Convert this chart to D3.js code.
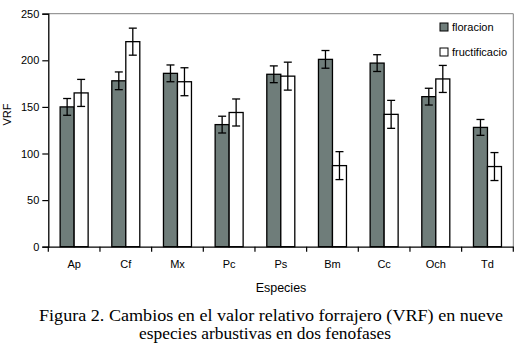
<!DOCTYPE html>
<html><head><meta charset="utf-8">
<script src="https://cdn.jsdelivr.net/npm/d3@7"></script>
<style>body{margin:0;background:#fff}svg{display:block}</style>
</head><body>
<svg id="c" width="519" height="349"></svg>
<script>
const categories = ["Ap","Cf","Mx","Pc","Ps","Bm","Cc","Och","Td"];
const seriesNames = ["floracion","fructificacio"];
const floracion = [150,178,186,131,185,201,197,161,128];
const fructificacio = [165,220,177,144,183,87,142,180,86];
const errFloracion = [9,9.5,9,9,9,9.5,9,9,8.5];
const errFructificacio = [14.5,14.5,15,14.5,15,15,15,14.5,15];
const yTicks = [0,50,100,150,200,250];

const svg = d3.select("#c");
const L = 48.3, R = 513.3, T = 13.7, B = 246.7;
const x = d3.scaleBand().domain(categories).range([L,R]).paddingInner(0).paddingOuter(0);
const y = d3.scaleLinear().domain([0,250]).range([B,T]);
const inner = d3.scaleBand().domain(seriesNames).range([0,28]);
const off = (x.bandwidth()-28)/2;
const floraFill = "#6f7d7a";

// frame top/right
svg.append("line").attr("x1",L).attr("x2",R).attr("y1",T).attr("y2",T).attr("stroke","#808080").attr("stroke-width",1);
svg.append("line").attr("x1",R).attr("x2",R).attr("y1",T).attr("y2",B).attr("stroke","#808080").attr("stroke-width",1);

const data = categories.map((c,i)=>({c, vals:[
  {s:"floracion", v:floracion[i], e:errFloracion[i]},
  {s:"fructificacio", v:fructificacio[i], e:errFructificacio[i]}]}));

const g = svg.append("g");
const grp = g.selectAll("g.grp").data(data).join("g").attr("transform",d=>`translate(${x(d.c)+off},0)`);
grp.selectAll("rect").data(d=>d.vals).join("rect")
  .attr("x",d=>inner(d.s)).attr("width",inner.bandwidth())
  .attr("y",d=>y(d.v)).attr("height",d=>B-y(d.v))
  .attr("fill",d=>d.s==="floracion"?floraFill:"#fff")
  .attr("stroke","#000").attr("stroke-width",1.3);
// error bars
const eb = grp.selectAll("g.eb").data(d=>d.vals).join("g").attr("class","eb");
eb.append("line").attr("x1",d=>inner(d.s)+inner.bandwidth()/2).attr("x2",d=>inner(d.s)+inner.bandwidth()/2)
  .attr("y1",d=>y(d.v+d.e)).attr("y2",d=>y(d.v-d.e)).attr("stroke","#000").attr("stroke-width",1.3);
[1,-1].forEach(sg=>{
  eb.append("line").attr("x1",d=>inner(d.s)+inner.bandwidth()/2-4).attr("x2",d=>inner(d.s)+inner.bandwidth()/2+4)
   .attr("y1",d=>y(d.v+sg*d.e)).attr("y2",d=>y(d.v+sg*d.e)).attr("stroke","#000").attr("stroke-width",1.3);
});

// axes
const font = "'Liberation Sans', Arial, sans-serif";
const ya = svg.append("g").attr("transform",`translate(${L},0)`)
  .call(d3.axisLeft(y).tickValues(yTicks).tickSize(6).tickPadding(3));
ya.select(".domain").attr("stroke","#000").attr("stroke-width",1.3);
ya.selectAll(".tick line").attr("stroke","#000").attr("stroke-width",1.2);
ya.selectAll("text").attr("font-family",font).attr("font-size",11).attr("fill","#000");

const xa = svg.append("g").attr("transform",`translate(0,${B})`)
  .call(d3.axisBottom(x).tickSize(0).tickPadding(14));
xa.select(".domain").attr("stroke","#000").attr("stroke-width",1.3);
xa.selectAll("text").attr("font-family",font).attr("font-size",11).attr("fill","#000");
// boundary ticks
const bounds = categories.map(c=>x(c)).concat([R]);
svg.append("g").selectAll("line").data(bounds).join("line")
  .attr("x1",d=>d).attr("x2",d=>d).attr("y1",B).attr("y2",B+5).attr("stroke","#000").attr("stroke-width",1.2);

svg.append("text").attr("transform","translate(11,114.5) rotate(-90)").attr("text-anchor","middle")
  .attr("font-family",font).attr("font-size",11).text("VRF");
svg.append("text").attr("x",281).attr("y",291.5).attr("text-anchor","middle")
  .attr("font-family",font).attr("font-size",12.5).text("Especies");

// legend
const lg = svg.append("g").selectAll("g").data(seriesNames).join("g")
  .attr("transform",(d,i)=>`translate(440,${23+i*25})`);
lg.append("rect").attr("width",8).attr("height",8)
  .attr("fill",d=>d==="floracion"?floraFill:"#fff").attr("stroke","#000").attr("stroke-width",1);
lg.append("text").attr("x",12).attr("y",8).attr("font-family",font).attr("font-size",11).text(d=>d);

// caption
const cap = svg.append("g").attr("font-family","'Liberation Serif','Times New Roman',serif").attr("font-size",16.5).attr("fill","#000");
cap.append("text").attr("x",39).attr("y",320.5).attr("textLength",464).attr("lengthAdjust","spacingAndGlyphs")
  .text("Figura 2. Cambios en el valor relativo forrajero (VRF)  en nueve");
cap.append("text").attr("x",139).attr("y",338.5).attr("textLength",252).attr("lengthAdjust","spacingAndGlyphs")
  .text("especies arbustivas en dos fenofases");
</script>
</body></html>
